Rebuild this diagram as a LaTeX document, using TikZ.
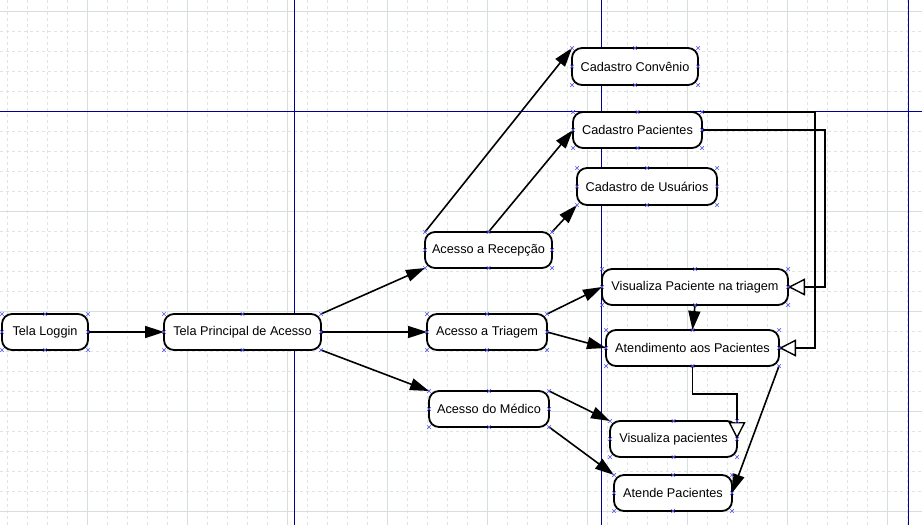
\documentclass[tikz,border=0pt]{standalone}
\usepackage{fontspec}
\setmainfont{Liberation Sans}
\usetikzlibrary{arrows.meta,shapes.misc}

\definecolor{gridmajor}{RGB}{214,222,222}
\definecolor{gridminor}{RGB}{222,228,228}
\definecolor{guideblue}{RGB}{0,0,150}
\definecolor{portblue}{RGB}{90,90,240}

\tikzset{
  state/.style={draw=black, line width=1.8pt, fill=white, rounded corners=10pt,
    minimum height=36pt, inner sep=0pt, outer sep=0pt,
    font=\fontsize{12.7pt}{14pt}\selectfont},
  flow/.style={draw=black, line width=1.6pt,
    -{Triangle[length=19pt,width=12pt]}},
  inherit/.style={draw=black, line width=1.6pt,
    -{Triangle[open,length=17pt,width=17pt,fill=white,line width=1.4pt]}},
  port/.style={cross out, draw=portblue, line width=0.7pt,
    minimum size=3.5pt, inner sep=0pt, outer sep=0pt},
  minorline/.style={gridminor, line width=0.9pt, dash pattern=on 3pt off 3pt},
  majorline/.style={gridmajor, line width=1pt},
  guide/.style={guideblue, line width=1.3pt}
}

\begin{document}
\begin{tikzpicture}[x=1pt,y=-1pt]
  \useasboundingbox (0,0) rectangle (922,525);
  \fill[white] (0,0) rectangle (922,525);

  % background grid
  \foreach \i in {0,...,45} \draw[minorline] ({7.3+20*\i},0) -- ++(0,525);
  \foreach \j in {0,...,25} \draw[minorline] (0,{11.7+20*\j}) -- ++(922,0);
  \foreach \i in {0,...,8} \draw[majorline] ({87.3+100*\i},0) -- ++(0,525);
  \foreach \j in {0,...,5} \draw[majorline] (0,{11.7+100*\j}) -- ++(922,0);

  % page guides
  \draw[guide] (294.7,0) -- (294.7,525);
  \draw[guide] (601.5,0) -- (601.5,525);
  \draw[guide] (908.3,0) -- (908.3,525);
  \draw[guide] (0,111.5) -- (922,111.5);

  % states
  \node[state, minimum width=86pt]  (login) at (45,332)     {Tela Loggin};
  \node[state, minimum width=157pt] (tpa)   at (242.5,332)  {Tela Principal de Acesso};
  \node[state, minimum width=127pt] (rec)   at (488.5,250)  {Acesso a Recepção};
  \node[state, minimum width=120pt] (tri)   at (487,332)    {Acesso a Triagem};
  \node[state, minimum width=120pt] (med)   at (489,409)    {Acesso do Médico};
  \node[state, minimum width=126pt, minimum height=37pt] (conv) at (635,66.5) {Cadastro Convênio};
  \node[state, minimum width=129pt] (cpac)  at (637.5,130)  {Cadastro Pacientes};
  \node[state, minimum width=140pt, minimum height=37pt] (cusu) at (647,186.5) {Cadastro de Usuários};
  \node[state, minimum width=186pt] (vpt)   at (695,287)    {Visualiza Paciente na triagem};
  \node[state, minimum width=173pt] (atend) at (692.5,348)  {Atendimento aos Pacientes};
  \node[state, minimum width=127pt] (visp)  at (673.5,439)  {Visualiza pacientes};
  \node[state, minimum width=118pt] (atp)   at (673,493)    {Atende Pacientes};

  % transitions
  \draw[flow] (login.east) -- (tpa.west);
  \draw[flow] (tpa.north east) -- (rec.south west);
  \draw[flow] (tpa.east) -- (tri.west);
  \draw[flow] (tpa.south east) -- (med.north west);
  \draw[flow] (rec.north west) -- (conv.north west);
  \draw[flow] (rec.north) -- (cpac.west);
  \draw[flow] (rec.north east) -- (cusu.south west);
  \draw[flow] (tri.north east) -- (vpt.west);
  \draw[flow] (tri.east) -- (atend.west);
  \draw[flow] (med.north east) -- (visp.north west);
  \draw[flow] (med.south east) -- (atp.north west);
  \draw[flow] (vpt.south) -- (atend.north);
  \draw[flow] (atend.south east) -- (atp.east);

  % generalisations
  \draw[inherit] (atend.south) -- ++(0,28) -| (visp.east);
  \draw[inherit] (cpac.north east) -- ++(113,0) |- (atend.east);
  \draw[inherit] (cpac.east) -- ++(123,0) |- (vpt.east);

  % connection ports
  \foreach \n in {login,tpa,rec,tri,med,conv,cpac,cusu,vpt,atend,visp,atp}
    \foreach \a in {north west,north,north east,east,south east,south,south west,west}
      \node[port] at (\n.\a) {};
\end{tikzpicture}
\end{document}
